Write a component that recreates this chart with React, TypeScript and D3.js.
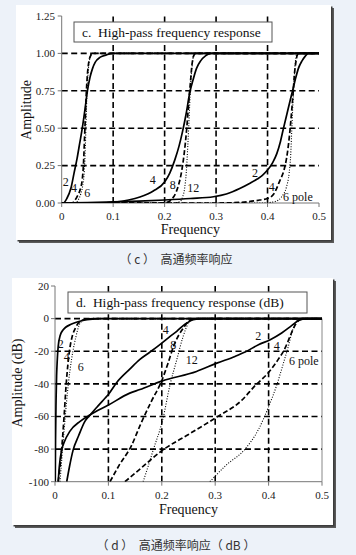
import React from "react";
import * as d3 from "d3";

type Pt = [number, number];

// ---------- Data: linear amplitude chart (c) ----------
const freqTicks = [0, 0.1, 0.2, 0.3, 0.4, 0.5];
const freqTickLabels = ["0", "0.1", "0.2", "0.3", "0.4", "0.5"];
const ampTicks = [0, 0.25, 0.5, 0.75, 1.0, 1.25];
const ampTickLabels = ["0.00", "0.25", "0.50", "0.75", "1.00", "1.25"];
const ampGrid = [0.25, 0.5, 0.75, 1.0];
const freqGrid = [0.1, 0.2, 0.3, 0.4];

const cA2: Pt[] = [[0, 0], [0.003, 0], [0.01, 0.03], [0.018, 0.1], [0.024, 0.2], [0.03, 0.3], [0.035, 0.4], [0.04, 0.5], [0.045, 0.62], [0.05, 0.75], [0.055, 0.84], [0.06, 0.9], [0.065, 0.94], [0.075, 0.975], [0.087, 0.99], [0.1, 1], [0.5, 1]];
const cA4: Pt[] = [[0, 0], [0.02, 0], [0.026, 0.02], [0.031, 0.05], [0.036, 0.09], [0.04, 0.16], [0.042, 0.24], [0.044, 0.4], [0.046, 0.58], [0.048, 0.75], [0.05, 0.86], [0.053, 0.95], [0.057, 0.99], [0.061, 1], [0.5, 1]];
const cA6: Pt[] = [[0, 0], [0.026, 0], [0.032, 0.02], [0.037, 0.06], [0.041, 0.12], [0.044, 0.22], [0.046, 0.38], [0.048, 0.62], [0.05, 0.8], [0.052, 0.9], [0.055, 0.97], [0.058, 1], [0.5, 1]];
const cB4: Pt[] = [[0, 0], [0.08, 0], [0.1, 0.005], [0.13, 0.02], [0.152, 0.04], [0.178, 0.08], [0.2, 0.14], [0.21, 0.2], [0.22, 0.29], [0.228, 0.38], [0.235, 0.48], [0.242, 0.6], [0.249, 0.74], [0.255, 0.82], [0.262, 0.9], [0.27, 0.95], [0.28, 0.985], [0.29, 1], [0.5, 1]];
const cB8: Pt[] = [[0, 0], [0.195, 0], [0.205, 0.005], [0.215, 0.03], [0.222, 0.07], [0.227, 0.12], [0.233, 0.21], [0.238, 0.33], [0.243, 0.5], [0.247, 0.68], [0.25, 0.8], [0.253, 0.92], [0.256, 0.98], [0.26, 1], [0.5, 1]];
const cB12: Pt[] = [[0, 0], [0.22, 0], [0.23, 0.01], [0.235, 0.04], [0.239, 0.1], [0.242, 0.2], [0.245, 0.38], [0.248, 0.6], [0.25, 0.76], [0.253, 0.9], [0.256, 0.98], [0.259, 1], [0.5, 1]];
const cC2: Pt[] = [[0, 0], [0.05, 0.002], [0.1, 0.007], [0.15, 0.012], [0.2, 0.02], [0.25, 0.03], [0.295, 0.042], [0.32, 0.06], [0.347, 0.098], [0.365, 0.13], [0.38, 0.16], [0.39, 0.185], [0.4, 0.22], [0.41, 0.27], [0.418, 0.33], [0.425, 0.41], [0.431, 0.5], [0.438, 0.6], [0.445, 0.7], [0.45, 0.77], [0.455, 0.84], [0.46, 0.9], [0.467, 0.95], [0.473, 0.98], [0.479, 1], [0.5, 1]];
const cC4: Pt[] = [[0, 0], [0.3, 0], [0.35, 0.005], [0.385, 0.02], [0.4, 0.03], [0.412, 0.06], [0.424, 0.15], [0.432, 0.22], [0.437, 0.3], [0.441, 0.4], [0.444, 0.5], [0.447, 0.62], [0.45, 0.75], [0.452, 0.85], [0.455, 0.94], [0.458, 0.99], [0.461, 1], [0.5, 1]];
const cC6: Pt[] = [[0, 0], [0.39, 0], [0.415, 0.01], [0.427, 0.04], [0.437, 0.11], [0.442, 0.2], [0.445, 0.32], [0.447, 0.48], [0.449, 0.64], [0.451, 0.78], [0.453, 0.9], [0.455, 0.97], [0.458, 1], [0.5, 1]];

// ---------- Data: dB chart (d) ----------
const dbTicks = [-100, -80, -60, -40, -20, 0, 20];
const dbTickLabels = ["-100", "-80", "-60", "-40", "-20", "0", "20"];
const dbGrid = [-80, -60, -40, -20, 0];

const dA2: Pt[] = [[0.0005, -100], [0.001, -75], [0.002, -50], [0.003, -35], [0.004, -27], [0.006, -17], [0.01, -10], [0.015, -7], [0.02, -5.3], [0.03, -3.5], [0.04, -2.2], [0.05, -1.3], [0.06, -0.7], [0.07, -0.3], [0.085, -0.05], [0.1, 0], [0.5, 0]];
const dA4: Pt[] = [[0.006, -100], [0.0125, -80], [0.017, -60], [0.021, -40], [0.027, -20], [0.033, -10], [0.038, -6], [0.043, -3], [0.05, -1.2], [0.057, -0.4], [0.065, -0.1], [0.075, 0], [0.5, 0]];
const dA6: Pt[] = [[0.0094, -100], [0.0125, -87], [0.0187, -62], [0.025, -40], [0.031, -25], [0.0393, -11], [0.0455, -3.7], [0.05, -1.5], [0.055, -0.4], [0.065, 0], [0.5, 0]];
const dB4: Pt[] = [[0.022, -100], [0.027, -91], [0.034, -80.5], [0.044, -72], [0.056, -63], [0.066, -59], [0.078, -54.5], [0.094, -48.7], [0.1, -46.5], [0.116, -39], [0.14, -31], [0.159, -25], [0.178, -20.5], [0.2, -15], [0.215, -11], [0.228, -7.8], [0.24, -4.3], [0.247, -2.7], [0.259, -0.6], [0.275, 0], [0.5, 0]];
const dB8: Pt[] = [[0.103, -100], [0.12, -90], [0.143, -78], [0.16, -65], [0.18, -51], [0.2, -38], [0.212, -27], [0.222, -17], [0.232, -10], [0.24, -6], [0.25, -1.6], [0.258, -0.2], [0.265, 0], [0.5, 0]];
const dB12: Pt[] = [[0.165, -100], [0.175, -90], [0.184, -80.5], [0.2017, -62], [0.2154, -40.6], [0.228, -25.2], [0.24, -10.9], [0.2497, -2.7], [0.256, 0], [0.5, 0]];
const dC2: Pt[] = [[0.006, -100], [0.008, -91], [0.0125, -80.5], [0.017, -76], [0.028, -69], [0.047, -63], [0.066, -59], [0.1, -53], [0.14, -45.7], [0.159, -43.5], [0.2, -38.3], [0.265, -32.4], [0.303, -27.3], [0.337, -23.2], [0.356, -20.5], [0.381, -16], [0.403, -12.9], [0.4245, -8.8], [0.443, -4.3], [0.456, -1.2], [0.471, 0], [0.5, 0]];
const dC4: Pt[] = [[0.131, -100], [0.16, -92], [0.2, -81], [0.25, -71], [0.3, -61], [0.35, -50], [0.375, -41], [0.4, -33], [0.418, -25], [0.431, -18], [0.44, -11], [0.448, -5], [0.455, -1.5], [0.462, 0], [0.5, 0]];
const dC6: Pt[] = [[0.29, -100], [0.32, -90], [0.356, -80], [0.381, -68], [0.4, -54], [0.415, -41], [0.428, -27], [0.437, -17], [0.444, -8], [0.451, -2.3], [0.458, 0], [0.5, 0]];

// Curve labels (centre positions): [freq, value, text]
const cLabels: [number, number, string][] = [
  [0.0078, 0.142, "2"], [0.0239, 0.098, "4"], [0.0497, 0.069, "6"],
  [0.1768, 0.154, "4"], [0.2157, 0.12, "8"], [0.2557, 0.098, "12"],
  [0.3756, 0.199, "2"], [0.408, 0.109, "4"], [0.459, 0.038, "6 pole"],
];
const dLabels: [number, number, string][] = [
  [0.0107, -15.4, "2"], [0.0219, -23.5, "4"], [0.0481, -29.7, "6"],
  [0.2073, -7.2, "4"], [0.2215, -16.4, "8"], [0.256, -25.2, "12"],
  [0.3807, -10.9, "2"], [0.4152, -16.6, "4"], [0.466, -26.2, "6 pole"],
];

type Series = { pts: Pt[]; style: "solid" | "dashed" | "dotted" };

const cSeries: Series[] = [
  { pts: cC2, style: "solid" }, { pts: cC4, style: "dashed" }, { pts: cC6, style: "dotted" },
  { pts: cB4, style: "solid" }, { pts: cB8, style: "dashed" }, { pts: cB12, style: "dotted" },
  { pts: cA2, style: "solid" }, { pts: cA4, style: "dashed" }, { pts: cA6, style: "dotted" },
];
const dSeries: Series[] = [
  { pts: dC2, style: "solid" }, { pts: dC4, style: "dashed" }, { pts: dC6, style: "dotted" },
  { pts: dB4, style: "solid" }, { pts: dB8, style: "dashed" }, { pts: dB12, style: "dotted" },
  { pts: dA2, style: "solid" }, { pts: dA4, style: "dashed" }, { pts: dA6, style: "dotted" },
];

const SERIF = "'Liberation Serif', 'Times New Roman', serif";
const CJK = "'Noto Sans CJK SC', sans-serif";

type ChartProps = {
  id: string;
  panel: { x: number; y: number; w: number; h: number };
  xr: [number, number];
  yr: [number, number];
  yDomain: [number, number];
  yTicks: number[];
  yTickLabels: string[];
  yGrid: number[];
  series: Series[];
  labels: [number, number, string][];
  title: string;
  titleBox: { x: number; y: number; w: number; h: number };
  yTitle: string;
  yTitlePos: [number, number];
  xTitleY: number;
  xTickY: number;
  yTickX: number;
  rightBorder: boolean;
  caption: string;
  captionY: number;
};

function styleAttrs(s: Series["style"]) {
  if (s === "solid") return { strokeWidth: 1.7, strokeDasharray: undefined as string | undefined };
  if (s === "dashed") return { strokeWidth: 1.7, strokeDasharray: "5,2.5" };
  return { strokeWidth: 1.1, strokeDasharray: "1,1.6" };
}

function Chart(p: ChartProps) {
  const x = d3.scaleLinear().domain([0, 0.5]).range(p.xr);
  const y = d3.scaleLinear().domain(p.yDomain).range(p.yr);
  const line = d3
    .line<Pt>()
    .x((d) => x(d[0]))
    .y((d) => y(d[1]))
    .curve(d3.curveMonotoneX);
  const [x0, x1] = p.xr;
  const [yb, yt] = p.yr;
  const gridStyle = { stroke: "#000", strokeWidth: 1.6, strokeDasharray: "6,3.5" };
  return (
    <g>
      <rect x={p.panel.x + 3} y={p.panel.y + 3} width={p.panel.w} height={p.panel.h} fill="#5a5a5a" />
      <rect x={p.panel.x + 1.5} y={p.panel.y + 1.5} width={p.panel.w} height={p.panel.h} fill="#3c3c3c" />
      <rect x={p.panel.x} y={p.panel.y} width={p.panel.w} height={p.panel.h} fill="#fff" />
      <defs>
        <clipPath id={p.id + "clip"}>
          <rect x={x0} y={yt} width={x1 - x0} height={yb - yt} />
        </clipPath>
      </defs>
      {p.yGrid.map((g) => (
        <line key={"hy" + g} x1={x0} x2={x1} y1={y(g)} y2={y(g)} {...gridStyle} />
      ))}
      {freqGrid.map((g) => (
        <line key={"vx" + g} x1={x(g)} x2={x(g)} y1={yb} y2={yt} {...gridStyle} />
      ))}
      <line x1={x0} x2={x0} y1={yb} y2={yt} stroke="#777" strokeWidth={1} />
      <line x1={x0} x2={x1} y1={yb} y2={yb} stroke="#777" strokeWidth={1} />
      {p.rightBorder && <line x1={x1} x2={x1} y1={yb} y2={y(0)} stroke="#888" strokeWidth={1} />}
      {p.yTicks.map((t) => (
        <line key={"yt" + t} x1={x0 - 4} x2={x0} y1={y(t)} y2={y(t)} stroke="#777" strokeWidth={1} />
      ))}
      {freqTicks.map((t) => (
        <line key={"xt" + t} x1={x(t)} x2={x(t)} y1={yb} y2={yb + 4} stroke="#777" strokeWidth={1} />
      ))}
      <g clipPath={`url(#${p.id}clip)`}>
        {p.series.map((s, i) => {
          const st = styleAttrs(s.style);
          return (
            <path
              key={i}
              d={line(s.pts) || ""}
              fill="none"
              stroke="#000"
              strokeWidth={st.strokeWidth}
              strokeDasharray={st.strokeDasharray}
            />
          );
        })}
      </g>
      <rect x={p.titleBox.x} y={p.titleBox.y} width={p.titleBox.w} height={p.titleBox.h} fill="#fff" stroke="#555" strokeWidth={1} />
      <text x={p.titleBox.x + 8} y={p.titleBox.y + p.titleBox.h / 2 + 4.5} fontFamily={SERIF} fontSize={13.5} fill="#111" xmlSpace="preserve">
        {p.title}
      </text>
      {p.yTicks.map((t, i) => (
        <text key={"yl" + t} x={p.yTickX} y={y(t) + 3.8} textAnchor="end" fontFamily={SERIF} fontSize={11} fill="#222">
          {p.yTickLabels[i]}
        </text>
      ))}
      {freqTicks.map((t, i) => (
        <text key={"xl" + t} x={x(t)} y={p.xTickY} textAnchor="middle" fontFamily={SERIF} fontSize={11} fill="#222">
          {freqTickLabels[i]}
        </text>
      ))}
      {p.labels.map(([f, v, s], i) => (
        <text key={"cl" + i} x={x(f)} y={y(v) + 4} textAnchor="middle" fontFamily={SERIF} fontSize={12} fill="#111">
          {s}
        </text>
      ))}
      <text x={(x0 + x1) / 2} y={p.xTitleY} textAnchor="middle" fontFamily={SERIF} fontSize={14} fill="#111">
        Frequency
      </text>
      <text
        transform={`translate(${p.yTitlePos[0]},${p.yTitlePos[1]}) rotate(-90)`}
        textAnchor="middle"
        fontFamily={SERIF}
        fontSize={14}
        fill="#111"
      >
        {p.yTitle}
      </text>
      <text x={176} y={p.captionY} textAnchor="middle" fontFamily={CJK} fontSize={12} fill="#333" xmlSpace="preserve">
        {p.caption}
      </text>
    </g>
  );
}

export default function App() {
  return (
    <svg
      width={356}
      height={555}
      viewBox="0 0 356 555"
      style={{ position: "absolute", left: 0, top: 0, display: "block" }}
    >
      <rect x={0} y={0} width={356} height={555} fill="#edf2f9" />
      <Chart
        id="c"
        panel={{ x: 16, y: 5, w: 315, h: 235 }}
        xr={[61.7, 319]}
        yr={[203, 16]}
        yDomain={[0, 1.25]}
        yTicks={ampTicks}
        yTickLabels={ampTickLabels}
        yGrid={ampGrid}
        series={cSeries}
        labels={cLabels}
        title={"c.  High-pass frequency response"}
        titleBox={{ x: 74, y: 22, w: 198, h: 20 }}
        yTitle="Amplitude"
        yTitlePos={[31, 110]}
        xTitleY={233.5}
        xTickY={220}
        yTickX={55}
        rightBorder={false}
        caption={"（ c ）  高通频率响应"}
        captionY={264}
      />
      <Chart
        id="d"
        panel={{ x: 12, y: 278, w: 321, h: 247 }}
        xr={[55, 322]}
        yr={[481.7, 286]}
        yDomain={[-100, 20]}
        yTicks={dbTicks}
        yTickLabels={dbTickLabels}
        yGrid={dbGrid}
        series={dSeries}
        labels={dLabels}
        title={"d.  High-pass frequency response (dB)"}
        titleBox={{ x: 68, y: 292, w: 239, h: 21 }}
        yTitle="Amplitude (dB)"
        yTitlePos={[22, 383]}
        xTitleY={513.5}
        xTickY={499}
        yTickX={49}
        rightBorder={true}
        caption={"（ d ）  高通频率响应（ dB ）"}
        captionY={550}
      />
    </svg>
  );
}
